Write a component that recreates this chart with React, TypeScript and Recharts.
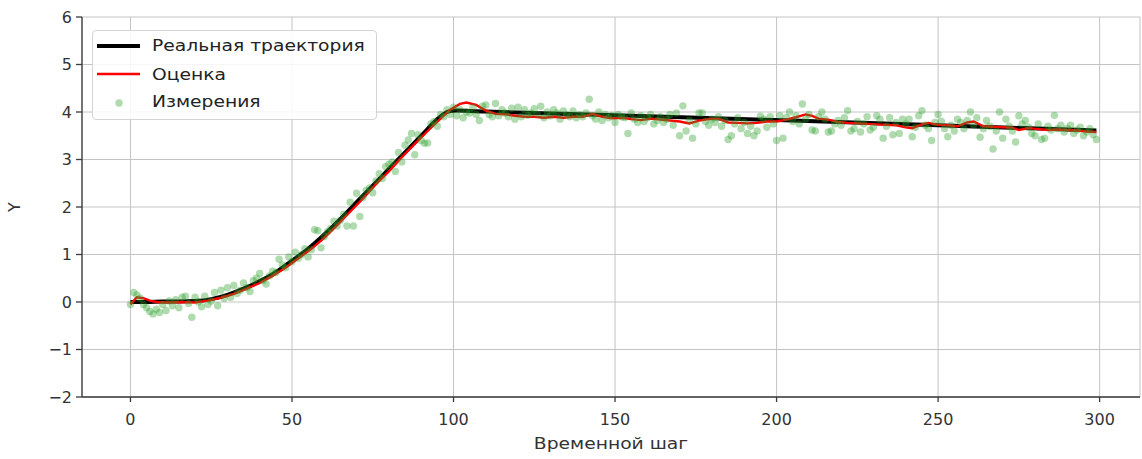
import React from "react";
import { ComposedChart, Line, Scatter, XAxis, YAxis, CartesianGrid, Legend } from "recharts";

const FONT = "'DejaVu Sans', sans-serif";
const TEXT = "#333333";
const SPINE = "#3a3a3a";

const xTicks = [0, 50, 100, 150, 200, 250, 300];
const yTicks = [-2, -1, 0, 1, 2, 3, 4, 5, 6];

// real trajectory (black)
const realSteps = [0, 5, 10, 15, 20, 25, 30, 35, 40, 45, 50, 55, 60, 65, 70, 75, 80, 85, 90, 95, 97, 99, 101, 110, 150, 200, 250, 299];
const realValues = [0.0, 0.0, 0.01, 0.01, 0.02, 0.06, 0.15, 0.28, 0.44, 0.63, 0.87, 1.12, 1.42, 1.75, 2.1, 2.45, 2.8, 3.15, 3.5, 3.85, 3.96, 4.02, 4.03, 4.01, 3.93, 3.83, 3.72, 3.61];

// filter estimate (red)
const estSteps = [
  0, 2, 4, 6, 8, 12, 16, 20, 24, 28, 32, 36, 40, 44, 48, 52, 56, 60, 64, 68, 72, 76, 80, 84, 88, 92, 96, 99,
  102, 104, 107, 110, 113, 116, 119, 122, 125, 128, 131, 134, 137, 140, 143, 146, 149, 152, 155, 158, 161, 164,
  167, 170, 173, 176, 179, 182, 185, 188, 191, 194, 197, 200, 203, 206, 209, 211, 213, 216, 219, 222, 225, 228,
  231, 234, 237, 240, 242, 245, 247, 250, 253, 256, 259, 261, 264, 267, 270, 273, 275, 278, 281, 284, 287, 290,
  293, 296, 299,
];
const estValues = [
  -0.05, 0.1, 0.08, 0.03, 0.0, -0.01, 0.0, -0.01, 0.03, 0.09, 0.17, 0.28, 0.4, 0.55, 0.72, 0.92, 1.12, 1.35, 1.62, 1.9, 2.18, 2.48, 2.75, 3.05, 3.33, 3.6, 3.86, 4.05,
  4.17, 4.2, 4.15, 4.03, 3.96, 3.95, 3.92, 3.9, 3.9, 3.88, 3.9, 3.88, 3.9, 3.9, 3.96, 3.9, 3.87, 3.88, 3.85, 3.83, 3.86, 3.84,
  3.82, 3.8, 3.76, 3.82, 3.85, 3.86, 3.78, 3.77, 3.76, 3.77, 3.8, 3.8, 3.84, 3.89, 3.95, 3.92, 3.86, 3.84, 3.79, 3.77, 3.76, 3.75,
  3.74, 3.73, 3.72, 3.68, 3.66, 3.74, 3.77, 3.73, 3.72, 3.7, 3.78, 3.8, 3.7, 3.69, 3.68, 3.67, 3.62, 3.66, 3.64, 3.62, 3.63, 3.62,
  3.61, 3.59, 3.58,
];

// measurements, one per step 0..299 (green dots)
const measured = [
  -0.05, 0.2, 0.15, 0.08, -0.05, -0.12, -0.2, -0.25, -0.15, -0.22,
  -0.05, -0.18, 0.02, -0.08, 0.05, -0.12, 0.1, 0.12, -0.03, -0.32,
  0.1, 0.0, -0.1, 0.12, -0.05, 0.02, 0.2, -0.08, 0.25, 0.08,
  0.3, 0.1, 0.35, 0.18, 0.25, 0.4, 0.3, 0.22, 0.45, 0.5,
  0.6, 0.45, 0.38, 0.55, 0.65, 0.62, 0.9, 0.78, 0.72, 0.95,
  0.85, 1.05, 0.92, 1.0, 1.12, 0.95, 1.1, 1.52, 1.5, 1.14,
  1.38, 1.48, 1.55, 1.7, 1.6, 1.72, 1.85, 1.6, 2.1, 1.6,
  2.29, 1.8, 2.2, 2.35, 2.4, 2.3, 2.55, 2.7, 2.6, 2.85,
  2.9, 2.95, 2.75, 3.15, 2.95, 3.3, 3.41, 3.55, 3.1, 3.52,
  3.4, 3.34, 3.35, 3.75, 3.8, 3.7, 3.95, 3.9, 4.05, 3.95,
  4.1, 3.92, 4.05, 3.88, 4.0, 3.98, 4.1, 3.95, 3.82, 4.12,
  4.15, 3.95, 3.9, 4.18, 3.92, 4.05, 3.98, 3.9, 4.08, 3.85,
  4.1, 3.9, 4.05, 3.93, 3.98, 4.07, 3.95, 4.12, 3.88, 4.0,
  3.92, 4.05, 3.98, 3.85, 4.02, 3.95, 3.9, 4.02, 3.88, 3.95,
  3.9, 3.98, 4.27, 3.92, 3.85, 4.0, 3.82, 3.95, 3.88, 3.93,
  3.78, 3.95, 3.9, 3.88, 3.55, 3.98, 3.85, 3.78, 3.92, 3.8,
  3.88, 3.95, 3.75, 3.82, 3.9, 3.78, 3.85, 3.95, 3.72, 3.98,
  3.5, 4.13, 3.6, 3.82, 3.45, 3.75, 3.98, 3.98, 3.8, 3.72,
  3.85, 3.78, 3.9, 3.7, 3.82, 3.42, 3.5, 3.75, 3.88, 3.65,
  3.78, 3.55, 3.7, 3.5, 3.6, 3.91, 3.85, 3.68, 3.9, 3.75,
  3.4, 3.92, 3.45, 3.88, 4.0, 3.8, 3.92, 3.75, 4.17, 3.85,
  3.95, 3.62, 3.6, 3.9, 4.0, 3.85, 3.58, 3.6, 3.75, 3.82,
  3.72, 3.88, 4.03, 3.6, 3.65, 3.8, 3.58, 3.75, 3.9, 3.62,
  3.68, 3.92, 3.85, 3.45, 3.7, 3.88, 3.52, 3.78, 3.55, 3.85,
  3.75, 3.85, 3.48, 3.68, 3.92, 4.03, 3.72, 3.65, 3.4, 3.78,
  3.95, 3.8, 3.65, 3.48, 3.72, 3.6, 3.85, 3.78, 3.65, 3.82,
  4.0, 3.72, 3.88, 3.47, 3.65, 3.82, 3.7, 3.22, 3.6, 4.0,
  3.45, 3.85, 3.7, 3.6, 3.37, 3.92, 3.75, 3.82, 3.68, 3.55,
  3.5, 3.75, 3.42, 3.45, 3.7, 3.62, 3.93, 3.65, 3.72, 3.58,
  3.66, 3.72, 3.55, 3.62, 3.68, 3.5, 3.58, 3.65, 3.52, 3.42,
];

const realData = realSteps.map((t, i) => ({ t, y: realValues[i] }));
const estData = estSteps.map((t, i) => ({ t, y: estValues[i] }));
const measData = measured.map((y, t) => ({ t, y }));

const fmtY = (v: number) => (v < 0 ? "\u2212" + Math.abs(v) : String(v));

const Dot = (props: any) => (
  <circle cx={props.cx} cy={props.cy} r={3.7} fill="#2ca02c" fillOpacity={0.38} />
);

// glyphs in the source are a bit wider than DejaVu, so stretch text horizontally
function WideText({ x, y, children, anchor = "start", fill = "#222" }: any) {
  return (
    <g transform={`translate(${x},${y}) scale(1.17,1)`}>
      <text x={0} y={0} textAnchor={anchor} fill={fill} fontFamily={FONT} fontSize={16}>
        {children}
      </text>
    </g>
  );
}

function LegendBox() {
  return (
    <div
      style={{
        width: 285,
        height: 90,
        boxSizing: "border-box",
        border: "1px solid #d4d4d4",
        borderRadius: 4,
        background: "rgba(255,255,255,0.85)",
        position: "relative",
      }}
    >
      <svg width={283} height={88} style={{ position: "absolute", left: 0, top: 0 }}>
        <line x1={4} x2={47} y1={15} y2={15} stroke="#000" strokeWidth={4} />
        <line x1={4} x2={47} y1={43} y2={43} stroke="red" strokeWidth={2.4} />
        <circle cx={26} cy={72} r={3.7} fill="#2ca02c" fillOpacity={0.38} />
        <WideText x={59} y={20}>Реальная траектория</WideText>
        <WideText x={59} y={49}>Оценка</WideText>
        <WideText x={59} y={76}>Измерения</WideText>
      </svg>
    </div>
  );
}

export default function App() {
  return (
    <div style={{ position: "absolute", left: 0, top: 0, background: "#fff" }}>
      <ComposedChart width={1142} height={459} margin={{ top: 17, right: 2, bottom: 0, left: 0 }}>
        <CartesianGrid stroke="#c4c4c4" strokeWidth={1} />
        <XAxis
          dataKey="t"
          type="number"
          domain={[-15, 312.5]}
          ticks={xTicks}
          allowDataOverflow
          height={62}
          tickSize={5}
          tickMargin={12}
          stroke={SPINE}
          strokeWidth={1.3}
          tick={{ fill: TEXT, fontFamily: FONT, fontSize: 16 }}
          label={{
            content: () => (
              <WideText x={611} y={449} anchor="middle" fill={TEXT}>
                Временной шаг
              </WideText>
            ),
          }}
        />
        <XAxis xAxisId="top" orientation="top" type="number" domain={[-15, 312.5]} height={0} tick={false} tickLine={false} stroke={SPINE} strokeWidth={1.3} />
        <YAxis
          type="number"
          domain={[-2, 6]}
          ticks={yTicks}
          allowDataOverflow
          width={82}
          tickSize={6}
          tickMargin={4}
          stroke={SPINE}
          strokeWidth={1.3}
          tickFormatter={fmtY}
          tick={{ fill: TEXT, fontFamily: FONT, fontSize: 16 }}
          label={{
            content: () => (
              <text x={20} y={207} transform="rotate(-90 20 207)" textAnchor="middle" fill={TEXT} fontFamily={FONT} fontSize={16}>
                Y
              </text>
            ),
          }}
        />
        <YAxis yAxisId="right" orientation="right" type="number" domain={[-2, 6]} width={0} tick={false} tickLine={false} stroke={SPINE} strokeWidth={1.3} />
        <Line data={realData} dataKey="y" type="monotone" stroke="#000" strokeWidth={4} dot={false} isAnimationActive={false} />
        <Line data={estData} dataKey="y" type="linear" stroke="red" strokeWidth={2.4} dot={false} isAnimationActive={false} />
        <Scatter data={measData} dataKey="y" shape={<Dot />} isAnimationActive={false} />
        <Legend
          layout="horizontal"
          verticalAlign="middle"
          align="center"
          content={() => <LegendBox />}
          wrapperStyle={{ left: 92, top: 30, width: 285, height: 90 }}
        />
      </ComposedChart>
    </div>
  );
}
